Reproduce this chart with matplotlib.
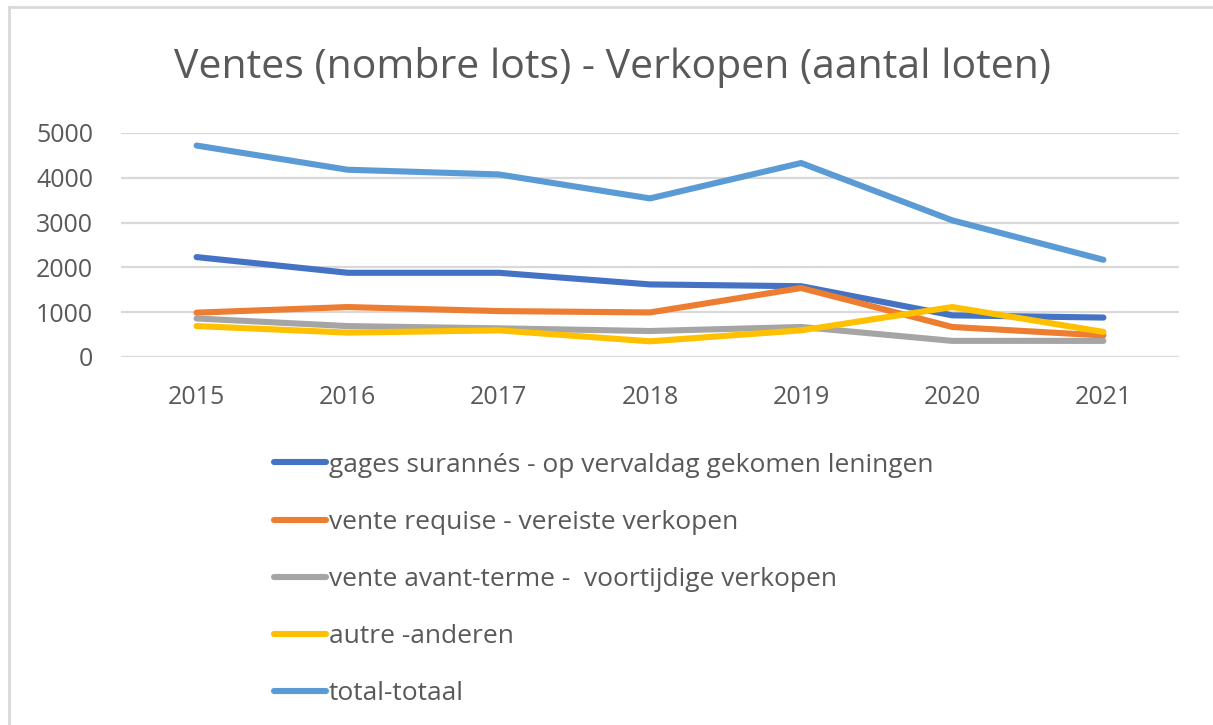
import matplotlib.pyplot as plt
from matplotlib.lines import Line2D

# data
years = ['2015', '2016', '2017', '2018', '2019', '2020', '2021']
gages = [2230, 1880, 1880, 1620, 1580, 930, 880]
requise = [990, 1115, 1025, 995, 1540, 670, 480]
avant_terme = [860, 690, 640, 580, 670, 360, 360]
autre = [690, 545, 595, 350, 595, 1115, 560]
total = [4720, 4180, 4075, 3540, 4330, 3050, 2170]

labels = ['gages surannés - op vervaldag gekomen leningen',
          'vente requise - vereiste verkopen',
          'vente avant-terme -  voortijdige verkopen',
          'autre -anderen',
          'total-totaal']
colors = ['#4472C4', '#ED7D31', '#A5A5A5', '#FFC000', '#5B9BD5']
series = [gages, requise, avant_terme, autre, total]

txt_color = '#595959'
grid_color = '#D9D9D9'
plt.rcParams['font.family'] = ['Open Sans', 'DejaVu Sans']

W, H = 1213, 725
fig = plt.figure(figsize=(W / 100, H / 100), dpi=100)

# axes placed in pixel coords of the reference
left, right, top, bottom = 121, 1179, 133, 357
ax = fig.add_axes([left / W, 1 - bottom / H, (right - left) / W, (bottom - top) / H])

x = list(range(len(years)))
for vals, col, lab in zip(series, colors, labels):
    ax.plot(x, vals, color=col, lw=4.4, label=lab, solid_capstyle='round',
            solid_joinstyle='round')

ax.set_xlim(-0.5, len(years) - 0.5)
ax.set_ylim(0, 5000)
ax.set_yticks(range(0, 5001, 1000))
ax.set_xticks(x)
ax.set_xticklabels(years)
ax.grid(axis='y', color=grid_color, lw=1.6)
ax.set_axisbelow(True)
for s in ax.spines.values():
    s.set_visible(False)
ax.tick_params(axis='both', length=0, colors=txt_color, labelsize=18)
ax.tick_params(axis='y', pad=20)
ax.tick_params(axis='x', pad=20)

fig.text(0.505, 1 - 67 / H, 'Ventes (nombre lots) - Verkopen (aantal loten)',
         ha='center', va='center', fontsize=29.5, color=txt_color)

handles, labs = ax.get_legend_handles_labels()
leg = fig.legend(handles, labs, loc='upper left',
                 bbox_to_anchor=(263 / W, 1 - 442 / H), frameon=False,
                 fontsize=19, handlelength=2.0, handletextpad=0.1,
                 labelspacing=1.22, borderaxespad=0)
for t in leg.get_texts():
    t.set_color(txt_color)

# light frame around the chart area
fig.add_artist(Line2D([9 / W, 9 / W], [0, 1 - 7 / H], transform=fig.transFigure,
                      color=grid_color, lw=2))
fig.add_artist(Line2D([9 / W, 1], [1 - 7 / H, 1 - 7 / H], transform=fig.transFigure,
                      color=grid_color, lw=2))

fig.savefig('out.png', dpi=100)
